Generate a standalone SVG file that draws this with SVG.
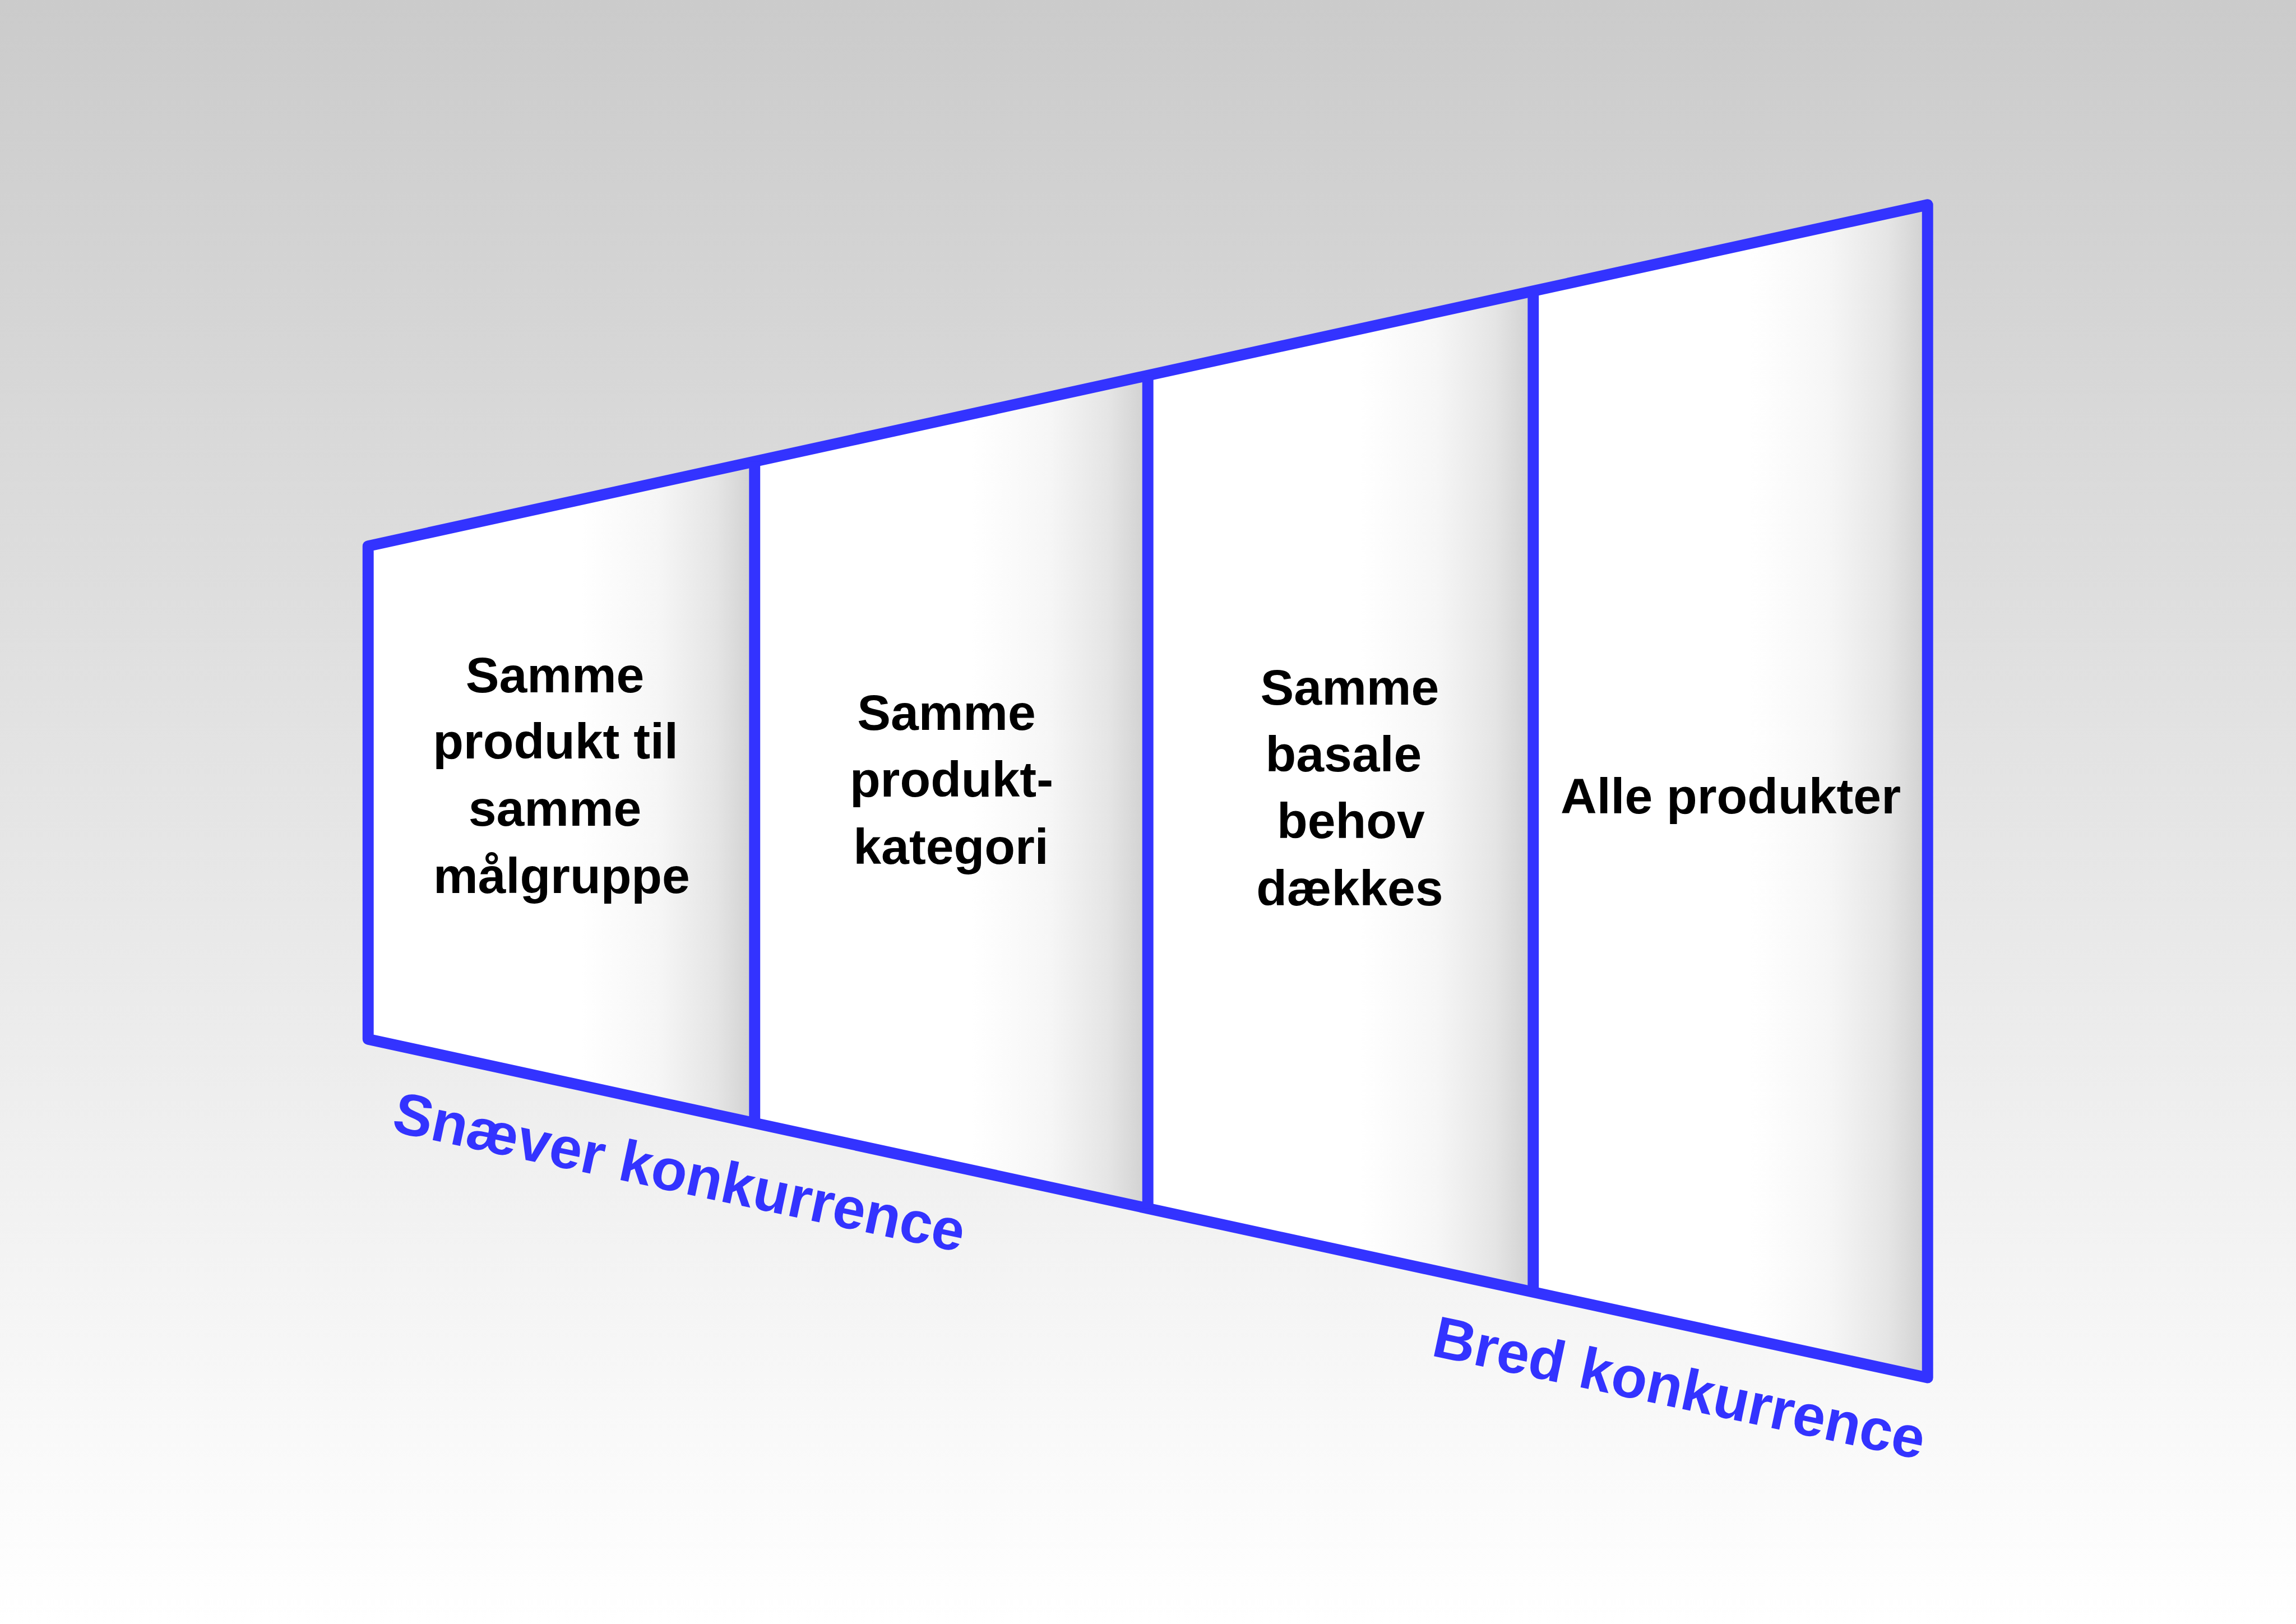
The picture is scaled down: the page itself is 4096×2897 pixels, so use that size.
<svg xmlns="http://www.w3.org/2000/svg" width="4096" height="2897" viewBox="0 0 4096 2897">
  <defs>
    <linearGradient id="bg" x1="0" y1="0" x2="0" y2="1">
      <stop offset="0" stop-color="#cbcbcb"/>
      <stop offset="1" stop-color="#ffffff"/>
    </linearGradient>
    <linearGradient id="panel" x1="0" y1="0" x2="1" y2="0">
      <stop offset="0" stop-color="#ffffff"/>
      <stop offset="0.55" stop-color="#ffffff"/>
      <stop offset="0.75" stop-color="#f6f6f6"/>
      <stop offset="0.9" stop-color="#e5e5e5"/>
      <stop offset="1" stop-color="#d0d0d0"/>
    </linearGradient>
    <style>
      .panel { fill: url(#panel); stroke: none; }
      .lbl { font-family: "Liberation Sans", Arial, sans-serif; font-weight: bold; font-size: 90px; fill: #000000; text-anchor: middle; }
      .axis { font-family: "Liberation Sans", Arial, sans-serif; font-weight: bold; font-size: 105px; fill: #3333ff; }
      .edge { fill: none; stroke: #3333ff; stroke-width: 20; stroke-linejoin: round; stroke-linecap: butt; }
    </style>
  </defs>
  <rect x="0" y="0" width="4096" height="2897" fill="url(#bg)"/>
  <g transform="scale(0.995)">
    <g id="panel-1">
      <polygon class="panel" points="660,979 1353,827.3 1353,2013.4 660,1863"/>
      <text class="lbl"><tspan x="995" y="1241">Samme</tspan><tspan x="996" y="1360">produkt til</tspan><tspan x="995" y="1480">samme</tspan><tspan x="1007" y="1601">målgruppe</tspan></text>
    </g>
    <g id="panel-2">
      <polygon class="panel" points="1353,827.3 2058,673 2058,2166.5 1353,2013.4"/>
      <text class="lbl"><tspan x="1697" y="1309">Samme</tspan><tspan x="1706" y="1428">produkt-</tspan><tspan x="1705" y="1549">kategori</tspan></text>
    </g>
    <g id="panel-3">
      <polygon class="panel" points="2058,673 2749,521.8 2749,2316.5 2058,2166.5"/>
      <text class="lbl"><tspan x="2420" y="1263">Samme</tspan><tspan x="2409" y="1383">basale</tspan><tspan x="2422" y="1503">behov</tspan><tspan x="2420" y="1623">dækkes</tspan></text>
    </g>
    <g id="panel-4">
      <polygon class="panel" points="2749,521.8 3456,367 3456,2470 2749,2316.5"/>
      <text class="lbl" x="3103" y="1458">Alle produkter</text>
    </g>
    <g id="connectors">
      <polygon class="edge" points="660,979 3456,367 3456,2470 660,1863"/>
      <line class="edge" x1="1353" y1="827.3" x2="1353" y2="2013.4"/>
      <line class="edge" x1="2058" y1="673" x2="2058" y2="2166.5"/>
      <line class="edge" x1="2749" y1="521.8" x2="2749" y2="2316.5"/>
    </g>
    <g id="axis-labels">
      <text id="label-narrow" class="axis" transform="translate(700,2028) rotate(12)" x="0" y="0">Snæver konkurrence</text>
      <text id="label-broad" class="axis" transform="translate(2564,2430) rotate(12)" x="0" y="0">Bred konkurrence</text>
    </g>
  </g>
</svg>
